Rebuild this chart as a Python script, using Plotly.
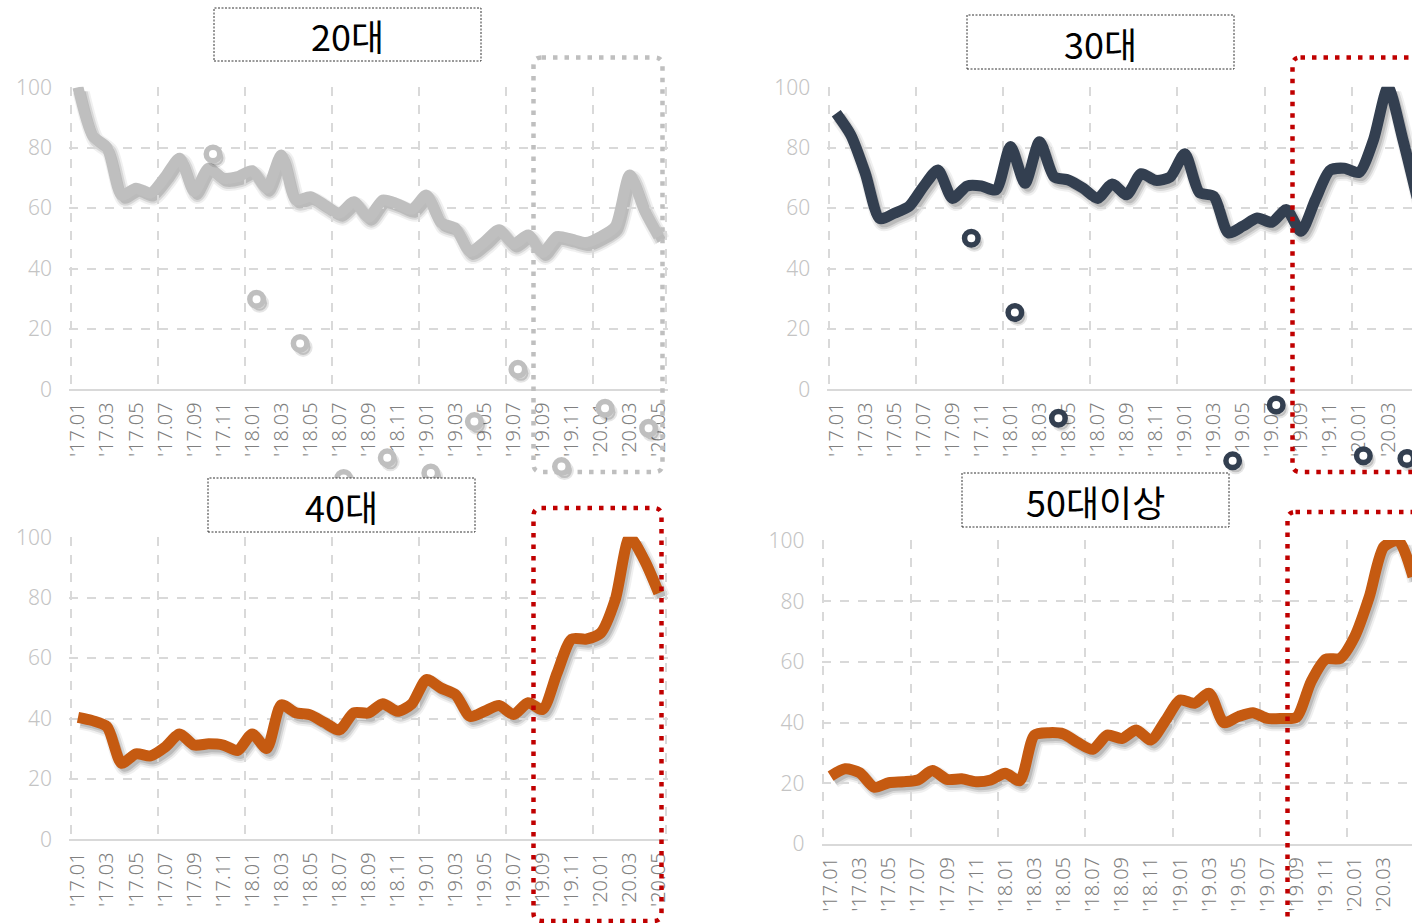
import plotly.graph_objects as go

# ---------------- data ----------------
months = ["'17.01", "'17.02", "'17.03", "'17.04", "'17.05", "'17.06", "'17.07", "'17.08", "'17.09", "'17.10", "'17.11", "'17.12",
          "'18.01", "'18.02", "'18.03", "'18.04", "'18.05", "'18.06", "'18.07", "'18.08", "'18.09", "'18.10", "'18.11", "'18.12",
          "'19.01", "'19.02", "'19.03", "'19.04", "'19.05", "'19.06", "'19.07", "'19.08", "'19.09", "'19.10", "'19.11", "'19.12",
          "'20.01", "'20.02", "'20.03", "'20.04", "'20.05"]
tick_labels = months[::2]

age20 = [100, 84.0, 80.0, 64.3, 66.6, 65.0, 70.4, 76.5, 65.5, 73.2, 69.9, 70.4, 72.4, 66.6, 77.6, 62.7, 63.8, 61.0, 58.3, 62.1,
         57.0, 62.7, 61.4, 59.6, 64.3, 55.2, 53.3, 45.6, 48.9, 52.8, 48.1, 51.1, 45.3, 50.6, 49.7, 48.6, 50.6, 53.9, 71.0, 59.4, 50.6]
age30 = [91.4, 84.2, 71.5, 56.5, 58.3, 60.5, 67.1, 72.6, 63.2, 67.3, 67.3, 66.0, 80.4, 68.2, 82.0, 70.4, 69.3, 66.6, 63.2, 68.0,
         64.4, 71.4, 69.2, 70.3, 78.0, 65.2, 63.9, 51.8, 54.0, 56.7, 55.3, 59.5, 52.3, 62.8, 72.5, 73.2, 71.8, 82.6, 100, 83.1, 63.5]
age40 = [40.4, 39.3, 37.3, 25.2, 28.3, 27.6, 30.5, 34.9, 31.2, 31.6, 31.2, 29.4, 34.9, 30.1, 44.5, 41.9, 41.2, 38.6, 36.2, 41.9,
         41.8, 44.9, 42.4, 44.9, 52.9, 50.1, 47.9, 40.7, 42.4, 44.3, 41.3, 45.2, 43.0, 55.1, 66.3, 66.3, 68.3, 79.3, 100, 92.5, 81.5]
age50 = [22.4, 24.8, 23.5, 18.7, 20.2, 20.5, 21.1, 24.2, 21.3, 21.5, 20.5, 21.1, 23.3, 20.9, 35.9, 36.7, 36.3, 33.4, 31.2, 35.9,
         34.8, 37.6, 34.3, 40.7, 47.5, 46.4, 49.7, 40.0, 42.0, 43.3, 41.4, 41.4, 41.8, 53.5, 60.9, 61.2, 68.4, 81.5, 98.0, 100, 88.1]

# stray marker series (month position, value)
circle_pos = [9.3, 12.3, 15.3, 18.3, 21.3, 24.3, 27.3, 30.3, 33.3, 36.3, 39.3]
circle20 = [77.9, 29.8, 15.2, -29.5, -22.7, -27.7, -10.7, 6.6, -25.6, -6.3, -12.9]
circle30 = [50.0, 25.4, -9.6, None, None, None, -23.7, -5.2, None, -22.0, -22.9]

titles = ["20대", "30대", "40대", "50대이상"]

# ---------------- layout helpers ----------------
W, H = 1412, 923
xidx = list(range(len(months)))
tickpos = xidx[::2]


def fx(p):
    return p / W


def fy(p):
    return 1 - p / H


panels = [
    dict(title=titles[0], vals=age20, circ=circle20, color="#bfbfbf", x0=70.7, x1=666.0, ytop=87.3, ybot=389.3, step=14.52,
         tbox=(214, 8, 481, 61), hl=(533.5, 57.5, 662.5, 472), hlc="#bfbfbf"),
    dict(title=titles[1], vals=age30, circ=circle30, color="#333f50", x0=829.0, x1=1412, ytop=87.3, ybot=389.3, step=14.52,
         tbox=(967, 15, 1234, 69), hl=(1292.5, 57.5, 1440, 472), hlc="#c00000"),
    dict(title=titles[2], vals=age40, circ=None, color="#c55a11", x0=70.7, x1=666.0, ytop=537.3, ybot=839.3, step=14.52,
         tbox=(208, 478, 475, 532), hl=(533.5, 508, 661.5, 921), hlc="#c00000"),
    dict(title=titles[3], vals=age50, circ=None, color="#c55a11", x0=823.3, x1=1412, ytop=540.7, ybot=844.0, step=14.56,
         tbox=(962, 473, 1229, 527), hl=(1287.5, 512, 1440, 950), hlc="#c00000"),
]

fig = go.Figure()
layout = dict(width=W, height=H, margin=dict(l=0, r=0, t=0, b=0, pad=0, autoexpand=False),
              paper_bgcolor="white", plot_bgcolor="rgba(0,0,0,0)",
              showlegend=False, shapes=[], annotations=[])

grid_col = "#d9d9d9"
minor_vals = [i - 0.5 for i in range(0, 42, 6)] + [40.5]
SHX, SHY = 3, 4  # shadow offset in px
XPAD = 0.12      # range padding (category units) so edge gridlines stay visible
CLOW = -45       # lower bound of the stray-marker layer


def xdom_range(p, dx):
    a = p["x0"] - XPAD * p["step"] + dx
    b = p["x1"] + XPAD * p["step"] + dx
    r0 = -0.5 - XPAD
    if b > W:
        b = W
    r1 = r0 + (b - a) / p["step"]
    return [fx(a), fx(b)], [r0, r1]


def hidden_axes(sid, p, dx, dy, ylow):
    s = (p["ybot"] - p["ytop"]) / 100.0
    dom, rng = xdom_range(p, dx)
    layout[f"xaxis{sid}"] = dict(domain=dom, range=rng,
                                 visible=False, anchor=f"y{sid}", fixedrange=True, automargin=False)
    layout[f"yaxis{sid}"] = dict(domain=[max(0, fy(p["ybot"] - ylow * s + dy)), fy(p["ytop"] + dy)], range=[ylow, 100],
                                 visible=False, anchor=f"x{sid}", fixedrange=True, automargin=False)


# 1-4: line shadows (soft: wide faint + narrower darker)
for k, p in enumerate(panels):
    sid = k + 1
    hidden_axes(sid, p, SHX, SHY, 0)
    for wdt, alpha in ((17, 0.06), (13, 0.10), (9, 0.13)):
        fig.add_trace(go.Scatter(x=xidx, y=p["vals"], mode="lines", xaxis=f"x{sid}", yaxis=f"y{sid}",
                                 line=dict(color=f"rgba(0,0,0,{alpha})", width=wdt, shape="spline", smoothing=0.7),
                                 hoverinfo="skip"))

# 5-8: main panels
for k, p in enumerate(panels):
    mid = k + 5
    dom, rng = xdom_range(p, 0)
    layout[f"xaxis{mid}"] = dict(
        domain=dom, range=rng, anchor=f"y{mid}", fixedrange=True,
        automargin=False,
        tickmode="array", tickvals=tickpos, ticktext=tick_labels, tickangle=-90,
        tickfont=dict(family="Noto Sans, DejaVu Sans", size=20, color="#808080", weight=300),
        ticks="", showgrid=False, zeroline=False, showline=True, linecolor=grid_col, linewidth=2,
        ticklabelstandoff=3, layer="below traces",
        minor=dict(tickmode="array", tickvals=minor_vals, showgrid=True, gridcolor=grid_col, griddash="dash",
                   gridwidth=1.5, ticks=""),
    )
    layout[f"yaxis{mid}"] = dict(
        domain=[fy(p["ybot"]), fy(p["ytop"] - 0.6)], range=[0, 100.2], anchor=f"x{mid}", fixedrange=True,
        automargin=False,
        tickmode="array", tickvals=[0, 20, 40, 60, 80, 100],
        tickfont=dict(family="Noto Sans, DejaVu Sans", size=21, color="#c4c4c4", weight=300),
        ticks="", showgrid=True, gridcolor=grid_col, griddash="dash", gridwidth=1.5, zeroline=False,
        showline=False, ticklabelstandoff=16, layer="below traces",
    )
    fig.add_trace(go.Scatter(x=xidx, y=p["vals"], mode="lines", xaxis=f"x{mid}", yaxis=f"y{mid}",
                             line=dict(color=p["color"], width=11, shape="spline", smoothing=0.7),
                             name=p["title"]))

# 9-10: marker shadows, 11-12: markers (extended value range so points below 0 stay drawn)
circ_panels = [p for p in panels if p["circ"] is not None]
for k, p in enumerate(circ_panels):
    sid = 9 + k
    hidden_axes(sid, p, SHX, SHY, CLOW)
    fig.add_trace(go.Scatter(x=circle_pos, y=p["circ"], mode="markers", xaxis=f"x{sid}", yaxis=f"y{sid}",
                             cliponaxis=False,
                             marker=dict(size=15, color="rgba(0,0,0,0.16)", line=dict(width=4, color="rgba(0,0,0,0.10)")),
                             hoverinfo="skip"))
for k, p in enumerate(circ_panels):
    sid = 11 + k
    hidden_axes(sid, p, 0, 0, CLOW)
    fig.add_trace(go.Scatter(x=circle_pos, y=p["circ"], mode="markers", xaxis=f"x{sid}", yaxis=f"y{sid}",
                             cliponaxis=False,
                             marker=dict(size=13.5, color="white", line=dict(width=5.5, color=p["color"]))))

for p in panels:
    # title box
    bx0, by0, bx1, by1 = p["tbox"]
    layout["shapes"].append(dict(type="rect", xref="paper", yref="paper", x0=fx(bx0), x1=fx(bx1), y0=fy(by1), y1=fy(by0),
                                 line=dict(color="#333333", width=1, dash="2px,1.5px"), fillcolor="white", layer="above"))
    layout["annotations"].append(dict(xref="paper", yref="paper", x=fx((bx0 + bx1) / 2), y=fy((by0 + by1) / 2 + 1),
                                      text=p["title"], showarrow=False, xanchor="center", yanchor="middle",
                                      font=dict(family="Noto Sans CJK KR", size=36, color="black")))
    # highlight dotted rounded box
    hx0, hy0, hx1, hy1 = p["hl"]
    r = 8
    pts = [
        ("M", hx0 + r, hy0), ("L", hx1 - r, hy0), ("Q", hx1, hy0, hx1, hy0 + r), ("L", hx1, hy1 - r),
        ("Q", hx1, hy1, hx1 - r, hy1), ("L", hx0 + r, hy1), ("Q", hx0, hy1, hx0, hy1 - r), ("L", hx0, hy0 + r),
        ("Q", hx0, hy0, hx0 + r, hy0),
    ]
    path = ""
    for seg in pts:
        cmd = seg[0]
        coords = seg[1:]
        parts = []
        for j in range(0, len(coords), 2):
            parts.append(f"{fx(coords[j]):.5f},{fy(coords[j + 1]):.5f}")
        path += cmd + " " + " ".join(parts) + " "
    path += "Z"
    layout["shapes"].append(dict(type="path", xref="paper", yref="paper", path=path,
                                 line=dict(color=p["hlc"], width=4.5, dash="4.5px,7px"), layer="above"))

fig.update_layout(**layout)
fig.write_html("out.html")
